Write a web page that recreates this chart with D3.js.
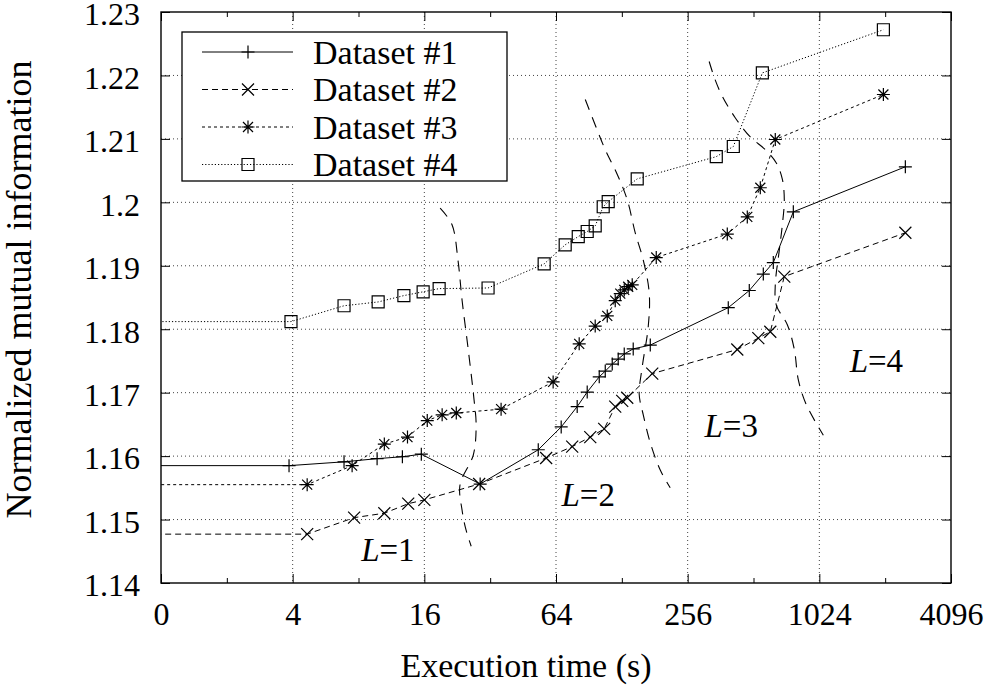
<!DOCTYPE html>
<html>
<head>
<meta charset="utf-8">
<script src="https://cdn.jsdelivr.net/npm/d3@7/dist/d3.min.js"></script>
<style>
  body { margin: 0; background: #fff; }
  text { font-family: "Liberation Serif", "Times New Roman", serif; fill: #000; }
</style>
</head>
<body>
<div id="chart-area"></div>
<script>
// values (time in s, log2 axis; 0.5 = the "0 s" start, clipped)
var seriesNames = ['Dataset #1', 'Dataset #2', 'Dataset #3', 'Dataset #4'];

var d1Time = [0.5, 3.85, 6.87, 9.73, 12.7, 15.5, 28.8, 53.1, 67.6, 80.0, 88.9, 100.9, 107.5, 115.7, 123.2, 131.3, 144.3, 172.7, 392.6, 489.8, 567.7, 630.7, 778.7, 2533];
var d1Nmi  = [1.1585, 1.1585, 1.1591, 1.1596, 1.1599, 1.1603, 1.1556, 1.1610, 1.1646, 1.1678, 1.1701, 1.1725, 1.1734, 1.1745, 1.1753, 1.1761, 1.1769, 1.1775, 1.1834, 1.1861, 1.1887, 1.1905, 1.1985, 1.2056];

var d2Time = [0.5, 4.66, 7.64, 10.5, 13.5, 16.0, 28.5, 57.7, 75.9, 91.8, 106.3, 119.4, 128.5, 135.5, 176.3, 431.7, 538.6, 611, 708, 2533];
var d2Nmi  = [1.1477, 1.1477, 1.1503, 1.1510, 1.1525, 1.1531, 1.1556, 1.1597, 1.1615, 1.1630, 1.1643, 1.1678, 1.1687, 1.1692, 1.1730, 1.1768, 1.1786, 1.1796, 1.1883, 1.1952];

var d3Time = [0.5, 4.66, 7.48, 10.5, 13.4, 16.5, 19.3, 22.4, 35.9, 62.1, 81.7, 96.7, 109.8, 119.4, 125.9, 131.3, 136.9, 142.8, 183.9, 388.5, 479.6, 550, 644, 2010];
var d3Nmi  = [1.1555, 1.1555, 1.1585, 1.1619, 1.1630, 1.1656, 1.1665, 1.1668, 1.1674, 1.1717, 1.1777, 1.1805, 1.1821, 1.1845, 1.1856, 1.1862, 1.1867, 1.1870, 1.1913, 1.1950, 1.1977, 1.2023, 1.2099, 1.2170];

var d4Time = [0.5, 3.93, 6.87, 9.84, 12.9, 15.8, 18.7, 31.3, 56.5, 70.5, 80.9, 88.9, 96.7, 105.2, 110.9, 150.5, 346, 414, 562, 2010];
var d4Nmi  = [1.1812, 1.1812, 1.1837, 1.1843, 1.1853, 1.1859, 1.1864, 1.1865, 1.1903, 1.1933, 1.1946, 1.1954, 1.1963, 1.1993, 1.2001, 1.2037, 1.2072, 1.2088, 1.2204, 1.2272];

// level boundaries (dashed curves)
var b1Time = [18.9, 21.4, 22.8, 23.8, 25.4, 27.0, 27.6, 26.8, 23.3, 23.8, 24.8, 26.2];
var b1Nmi  = [1.1991, 1.1965, 1.1909, 1.1846, 1.1768, 1.1689, 1.1649, 1.1602, 1.1555, 1.1515, 1.1484, 1.1458];
var b2Time = [87.1, 96.7, 107.5, 122, 135.5, 147.4, 160.4, 170.8, 169, 158.7, 153.7, 160.4, 172.7, 191.8, 213];
var b2Nmi  = [1.2162, 1.2122, 1.2083, 1.2044, 1.2004, 1.1952, 1.1909, 1.1857, 1.1804, 1.1741, 1.1697, 1.1665, 1.1621, 1.1578, 1.1550];
var b3Time = [321, 342, 369, 423, 495, 580, 651, 694, 708, 694, 672, 644, 651, 731, 787, 821, 893, 1068];
var b3Nmi  = [1.2222, 1.2193, 1.2167, 1.2133, 1.2103, 1.2083, 1.2062, 1.2036, 1.2004, 1.1965, 1.1925, 1.1870, 1.1838, 1.1807, 1.1768, 1.1720, 1.1681, 1.1633];

var levelLabels = ['1', '2', '3', '4'];
var levelTime = [10.9, 89.8, 405, 1867];
var levelNmi  = [1.1435, 1.1521, 1.1630, 1.1733];

var xTickValues = [1, 4, 16, 64, 256, 1024, 4096];
var xTickLabels = ['0', '4', '16', '64', '256', '1024', '4096'];
var xMinorValues = [2, 8, 32, 128, 512, 2048];
var yTickValues = [1.14, 1.15, 1.16, 1.17, 1.18, 1.19, 1.2, 1.21, 1.22, 1.23];


ChartVis = function(_parentElement) {
  this.parentElement = _parentElement;
  this.initVis();
};

ChartVis.prototype.initVis = function() {
  var vis = this;

  vis.margin = { 'top': 12, 'bottom': 105, 'left': 161, 'right': 36 };
  vis.width = 987 - vis.margin.left - vis.margin.right;
  vis.height = 688 - vis.margin.top - vis.margin.bottom;

  vis.svg = d3.select('#' + vis.parentElement).append('svg')
    .attr('width', 987)
    .attr('height', 688)
    .append('g')
    .attr('transform', 'translate(' + vis.margin.left + ',' + vis.margin.top + ')');

  vis.x = d3.scaleLog().base(2).domain([1, 4096]).range([0, vis.width]);
  vis.y = d3.scaleLinear().domain([1.14, 1.23]).range([vis.height, 0]);

  vis.svg.append('clipPath').attr('id', 'plot-clip')
    .append('rect')
    .attr('width', vis.width)
    .attr('height', vis.height);

  vis.wrangleData();
};

ChartVis.prototype.wrangleData = function() {
  var vis = this;

  var zipUp = function(t, v) {
    return t.map(function(d, i) { return { time: d, nmi: v[i] }; });
  };

  vis.series = [
    { name: seriesNames[0], values: zipUp(d1Time, d1Nmi), dash: null, marker: 'plus' },
    { name: seriesNames[1], values: zipUp(d2Time, d2Nmi), dash: '6,4', marker: 'cross' },
    { name: seriesNames[2], values: zipUp(d3Time, d3Nmi), dash: '3,3', marker: 'star' },
    { name: seriesNames[3], values: zipUp(d4Time, d4Nmi), dash: '1.2,2', marker: 'box' }
  ];
  vis.boundaries = [zipUp(b1Time, b1Nmi), zipUp(b2Time, b2Nmi), zipUp(b3Time, b3Nmi)];

  vis.updateVis();
};

var markerPaths = {
  plus: 'M-6.5,0H6.5M0,-6.5V6.5',
  cross: 'M-6,-6L6,6M-6,6L6,-6',
  star: 'M-6.5,0H6.5M0,-6.5V6.5M-5,-5L5,5M-5,5L5,-5',
  box: 'M-6,-6H6V6H-6Z'
};

ChartVis.prototype.updateVis = function() {
  var vis = this;
  var w = vis.width, h = vis.height;

  // grid
  var grid = vis.svg.append('g').attr('class', 'grid');
  grid.selectAll('.gx')
    .data(xTickValues.slice(1, -1))
    .enter().append('line')
    .attr('x1', d => vis.x(d)).attr('x2', d => vis.x(d))
    .attr('y1', 0).attr('y2', h)
    .attr('stroke', '#444').attr('stroke-width', 1).attr('stroke-dasharray', '1,3');
  grid.selectAll('.gy')
    .data(yTickValues.slice(1, -1))
    .enter().append('line')
    .attr('y1', d => vis.y(d)).attr('y2', d => vis.y(d))
    .attr('x1', 0).attr('x2', w)
    .attr('stroke', '#444').attr('stroke-width', 1).attr('stroke-dasharray', '1,3');

  // axes with inward ticks on all four sides
  var bottom = vis.svg.append('g').attr('transform', 'translate(0,' + h + ')')
    .call(d3.axisBottom(vis.x).tickValues(xTickValues)
      .tickFormat((d, i) => xTickLabels[i]).tickSize(-9).tickPadding(19));
  vis.svg.append('g').attr('transform', 'translate(0,' + h + ')')
    .call(d3.axisBottom(vis.x).tickValues(xMinorValues).tickFormat('').tickSize(-5));
  vis.svg.append('g')
    .call(d3.axisTop(vis.x).tickValues(xTickValues).tickFormat('').tickSize(-9));
  vis.svg.append('g')
    .call(d3.axisTop(vis.x).tickValues(xMinorValues).tickFormat('').tickSize(-5));
  var left = vis.svg.append('g')
    .call(d3.axisLeft(vis.y).tickValues(yTickValues)
      .tickFormat(d3.format('')).tickSize(-9).tickPadding(21));
  vis.svg.append('g').attr('transform', 'translate(' + w + ',0)')
    .call(d3.axisRight(vis.y).tickValues(yTickValues).tickFormat('').tickSize(-9));

  vis.svg.selectAll('.domain').remove();
  vis.svg.selectAll('.tick line').attr('stroke', '#000').attr('stroke-width', 1);
  bottom.selectAll('text').style('font-size', '32px').attr('fill', '#000');
  left.selectAll('text').style('font-size', '32px').attr('fill', '#000').attr('dy', '0.4em');

  // level boundaries
  var boundaryLine = d3.line()
    .x(d => vis.x(d.time)).y(d => vis.y(d.nmi))
    .curve(d3.curveCatmullRom.alpha(0.5));
  vis.svg.append('g').attr('clip-path', 'url(#plot-clip)')
    .selectAll('path')
    .data(vis.boundaries)
    .enter().append('path')
    .attr('d', boundaryLine)
    .attr('fill', 'none').attr('stroke', '#000').attr('stroke-width', 1.1)
    .attr('stroke-dasharray', '11,8');

  // data series
  var line = d3.line().x(d => vis.x(d.time)).y(d => vis.y(d.nmi));
  var plot = vis.svg.append('g').attr('clip-path', 'url(#plot-clip)');
  vis.series.forEach(function(s) {
    plot.append('path')
      .datum(s.values)
      .attr('d', line)
      .attr('fill', 'none').attr('stroke', '#000').attr('stroke-width', 1)
      .attr('stroke-dasharray', s.dash);
    plot.selectAll('.m-' + s.marker)
      .data(s.values)
      .enter().append('path')
      .attr('class', 'm-' + s.marker)
      .attr('transform', d => 'translate(' + vis.x(d.time) + ',' + vis.y(d.nmi) + ')')
      .attr('d', markerPaths[s.marker])
      .attr('fill', 'none').attr('stroke', '#000').attr('stroke-width', 1.2);
  });

  // L = n labels
  var lab = vis.svg.selectAll('.level')
    .data(levelLabels)
    .enter().append('text')
    .attr('class', 'level')
    .attr('x', (d, i) => vis.x(levelTime[i]))
    .attr('y', (d, i) => vis.y(levelNmi[i]))
    .attr('text-anchor', 'middle')
    .style('font-size', '33px');
  lab.append('tspan').style('font-style', 'italic').text('L');
  lab.append('tspan').text(d => '=' + d);

  // frame
  vis.svg.append('rect')
    .attr('width', w).attr('height', h)
    .attr('fill', 'none').attr('stroke', '#000').attr('stroke-width', 1.4);

  // legend
  var legend = vis.svg.append('g').attr('transform', 'translate(21,20)');
  legend.append('rect')
    .attr('width', 325).attr('height', 149)
    .attr('fill', '#fff').attr('stroke', '#000').attr('stroke-width', 1.3);
  var rows = legend.selectAll('.row')
    .data(vis.series)
    .enter().append('g')
    .attr('transform', (d, i) => 'translate(0,' + (20 + i * 37.5) + ')');
  rows.append('line')
    .attr('x1', 20).attr('x2', 111)
    .attr('stroke', '#000').attr('stroke-width', 1)
    .attr('stroke-dasharray', d => d.dash);
  rows.append('path')
    .attr('transform', 'translate(66,0)')
    .attr('d', d => markerPaths[d.marker])
    .attr('fill', 'none').attr('stroke', '#000').attr('stroke-width', 1.2);
  rows.append('text')
    .attr('x', 131).attr('dy', '0.34em')
    .style('font-size', '34px')
    .text(d => d.name);

  // axis titles
  vis.svg.append('text')
    .attr('x', w / 2 - 30).attr('y', h + 94)
    .attr('text-anchor', 'middle')
    .style('font-size', '34px')
    .text('Execution time (s)');
  vis.svg.append('text')
    .attr('transform', 'translate(-130,' + (h / 2 - 8) + ') rotate(-90)')
    .attr('text-anchor', 'middle')
    .style('font-size', '36px')
    .text('Normalized mutual information');
};

new ChartVis('chart-area');
</script>
</body>
</html>
